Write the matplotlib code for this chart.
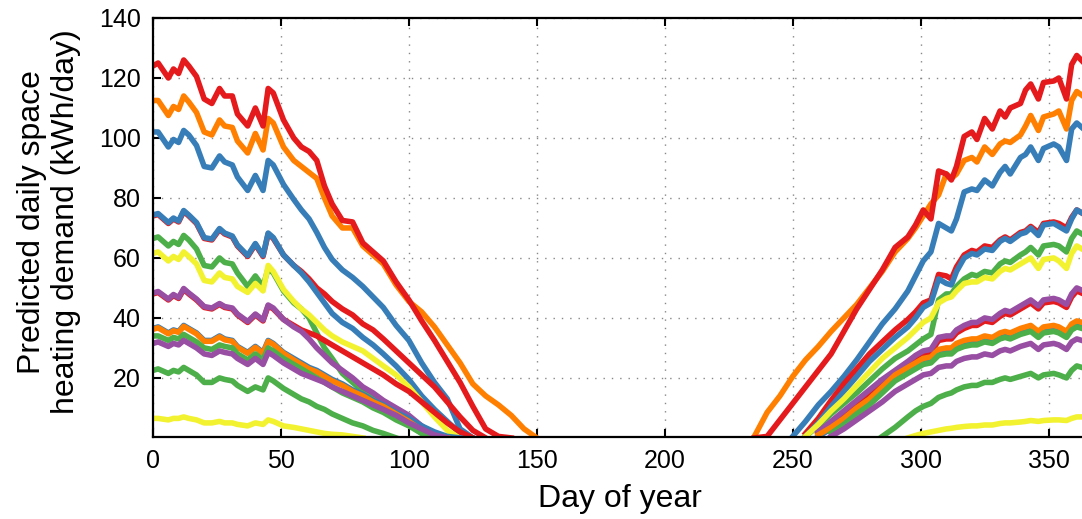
import matplotlib
matplotlib.use("Agg")
import matplotlib.pyplot as plt
import numpy as np

plt.rcParams['font.family'] = ['Liberation Sans', 'DejaVu Sans']

# day grids (spring part starts at day 0, autumn part ends at day 365)
spring_days = [0, 2, 6, 8, 10, 12, 14, 17, 20, 23, 26, 28, 31, 33, 37, 40, 43, 45, 47, 51,
               55, 58, 61, 64, 67, 70, 74, 78, 82, 86, 90, 95, 100, 105, 110, 115, 120, 125,
               130, 135, 140, 145, 150]
autumn_days = [235, 240, 245, 250, 255, 260, 265, 270, 275, 280, 285, 290, 295, 298, 301,
               304, 307, 310, 312, 314, 317, 320, 322, 325, 328, 331, 333, 335, 339, 341,
               343, 346, 348, 352, 354, 357, 359, 361, 365]

# spring values (kWh/day), until each curve hits zero
orange1_a = [112.5, 112.5, 107.5, 110.5, 109.5, 114, 112, 108.5, 102, 101, 106, 104, 103.5, 99, 95,
             101.5, 96, 106.5, 105, 97, 92.5, 90.5, 88.5, 86.5, 80, 74, 70, 70, 64, 61, 58, 51,
             45.5, 42, 37, 31, 25, 18, 14, 11, 7.5, 3, 0]
red1_a = [124, 125, 120, 123, 121.5, 126, 124, 120.5, 113, 111.5, 116.5, 114, 114, 108, 104,
          110, 104, 116.5, 115, 106, 100, 97, 95.5, 92.5, 84, 78, 72.5, 72, 65, 62, 59, 52,
          46, 39, 32.5, 25.5, 18.5, 10.5, 3, 0.5, 0]
blue1_a = [102, 102, 97, 99.5, 98.5, 102.5, 101, 97.5, 90.5, 90, 94, 92, 91, 87, 82.5, 87.5,
           82.5, 92.5, 91, 84.5, 79.5, 76, 73, 68.5, 63.5, 59.5, 56, 53.5, 50.5, 47, 43.5, 37.5,
           32.5, 25, 18.5, 13, 3, 0]
red2_a = [74, 74.5, 71.5, 73, 72, 75.5, 74, 71.5, 66.5, 66, 69.5, 68, 67, 64, 60.5, 64.5, 60.5,
          68, 66.5, 61, 57.5, 55.5, 53, 50, 48, 45.5, 43, 41, 38, 36, 33, 29, 25, 21, 17, 12, 7,
          2.5, 0]
blue2_a = [74.3, 74.8, 71.8, 73.3, 72.3, 75.8, 74.3, 71.8, 66.8, 66.3, 69.8, 68.3, 67.3, 64.3,
           60.8, 64.8, 60.8, 68.3, 66.8, 61, 57.5, 55, 52, 48.5, 45, 41.5, 38.5, 36.5, 33.5, 31,
           28, 24, 19.5, 14, 9.5, 5.5, 1.5, 0]
green1_a = [66.5, 67, 64, 65.5, 64.5, 67.5, 66, 63, 57.5, 57, 60, 58.5, 58, 55, 50.5, 54, 50.5,
            56.5, 55, 49, 45, 43, 40, 35, 30, 26.5, 21.5, 18.5, 15.5, 13.5, 11, 7.5, 4.5, 1.5, 0]
yellow1_a = [61.5, 62, 59, 60.5, 59.5, 62, 60.5, 58, 52.5, 52, 55, 53.5, 53, 50.5, 48.5, 51.5,
             49, 57.5, 55.5, 49.5, 45.5, 43, 41, 38.5, 36, 34, 32, 30.5, 29, 26.5, 24, 21, 17,
             12, 7, 2.5, 0]
red3_a = [48, 48.5, 46, 47.5, 46.5, 49.5, 48, 46, 43.5, 43, 44.5, 43.5, 43, 41, 38.5, 41, 39,
          44, 43, 39.5, 37.5, 36, 35, 34, 32.5, 31, 29, 27, 25, 23, 21, 18, 15.5, 12, 8.5, 5,
          2, 0]
purple1_a = [48.3, 48.8, 46.3, 47.8, 46.8, 49.8, 48.3, 46.3, 43.8, 43.3, 44.8, 43.8, 43.3, 41.3,
             38.8, 41.3, 39.3, 44.3, 43.3, 39.5, 37, 35.5, 33, 30, 27.5, 25, 22.5, 20, 17, 15,
             12.5, 10, 7.5, 4, 1, 0]
blue3_a = [36.5, 37, 35, 36, 35.5, 37.5, 36.5, 35, 32.5, 32.5, 34, 33, 32.5, 30.5, 28.5, 30.5,
           28.5, 32.5, 31.5, 28.5, 26.5, 25, 23.5, 22.5, 21, 19.5, 18, 16, 14.5, 12.5, 11, 8.5,
           6.5, 4, 2, 0.5, 0]
orange2_a = [36.2, 36.7, 34.7, 35.7, 35.2, 37.2, 36.2, 34.7, 32.2, 32.2, 33.7, 32.7, 32.2, 30.2,
             28.2, 30.2, 28.2, 32.2, 31.2, 28.2, 26, 24.5, 23, 22, 20.5, 19, 17.5, 15.5, 14, 12,
             10.5, 8, 5.5, 2.5, 0.5, 0]
green2_a = [34, 34, 32.5, 33.5, 33, 34.5, 33.5, 32, 30, 29.5, 31, 30.5, 30, 28, 26, 28, 26, 30,
            29, 26.5, 24.5, 23, 21.5, 20, 18.5, 17, 15, 13.5, 12, 10, 8.5, 6, 4, 1.5, 0]
purple2_a = [31.5, 32, 30.5, 31.5, 31, 32.5, 31.5, 30, 28, 27.5, 29, 28.5, 28, 26.5, 24.5, 26.5,
             24.5, 28.5, 27.5, 25, 23, 21.5, 20.5, 19.5, 18.5, 17, 15.5, 14, 12.5, 11, 9.5, 7.5,
             5, 3, 1, 0]
green3_a = [22.5, 23, 21.5, 22.5, 22, 23.5, 22.5, 21, 18.5, 18.5, 20, 19.5, 19, 17.5, 15.5, 17,
            16, 20, 19, 16.5, 14.5, 13, 12, 10.5, 9.5, 8, 6.5, 5, 4, 2.5, 1.5, 0]
yellow2_a = [6.5, 6.5, 6, 6.5, 6.5, 7, 6.5, 6, 5, 5, 5.5, 5, 5, 4.5, 4, 5, 4.5, 6, 5.5, 4, 3.5,
             3, 2.5, 2, 1.5, 1.2, 1, 0.5, 0]

# autumn values, from the day each curve leaves zero until day 365
orange1_b = [0.5, 8.5, 14, 20.5, 26, 30.5, 35.5, 40, 44.5, 50, 55.5, 62, 66.5, 70, 74, 78, 81,
             88, 86.5, 88, 92.5, 93.5, 92, 97, 94.5, 98, 99, 98.5, 101, 104, 107.5, 102.5, 107,
             108, 109, 103, 112.5, 115.5, 113]
red1_b = [0, 0.5, 6, 11.5, 17, 22.5, 28, 35.5, 43, 49.5, 56, 63.5, 67, 71, 76, 73, 89, 88, 86,
          90.5, 100.5, 102, 99.5, 106.5, 103, 109, 107, 110, 111.5, 116, 118, 113, 118.5, 119,
          120, 113, 124.5, 127.5, 124]
blue1_b = [0.5, 5.5, 11, 15.5, 20.5, 26, 32, 38, 43, 49, 54, 59, 62, 71.5, 70, 69, 73, 82, 83,
           82.5, 86, 84, 88.5, 90.5, 88, 93.5, 94.5, 97, 92.5, 96.5, 98, 97, 92.5, 103, 105, 102]
red2_b = [1.5, 6.5, 12.5, 18, 23, 28, 32, 36, 39.5, 42, 45, 46, 54.5, 54, 53, 57, 61, 62.5, 62,
          64, 63.5, 66, 67, 66, 68.5, 69, 70.5, 68.5, 71.5, 72, 71.5, 70, 73.5, 76, 74]
blue2_b = [0.5, 5, 10.5, 15.5, 20.5, 25.5, 29.5, 33.5, 37, 40, 43.5, 45, 53, 51.5, 51, 55.5, 60,
           61.5, 61, 63, 62.5, 65.5, 66.5, 65.5, 68, 68.5, 70, 67.5, 71, 71.5, 70.5, 69, 73, 76,
           74]
green1_b = [0.5, 4, 8, 11.5, 15, 19, 23, 26.5, 29, 31, 33, 34.5, 46, 48, 48, 50.5, 53, 54.5, 54,
            55.5, 55, 58, 59, 58.5, 61, 62, 63.5, 61, 64, 64.5, 64, 62, 66.5, 69, 67]
yellow1_b = [0.5, 4.5, 9, 13, 17.5, 22, 26.5, 30, 33.5, 36, 38.5, 40, 45, 46.5, 47, 49, 51.5, 52,
             52, 53.5, 53, 55.5, 56.5, 56, 58, 59, 60, 56.5, 59.5, 60, 59, 56.5, 61.5, 64, 62]
red3_b = [1.5, 5, 8, 11.5, 15, 18.5, 21.5, 24.5, 26.5, 28, 28.5, 32.5, 33, 33, 35, 36.5, 37.5,
          37.5, 39, 38.5, 40.5, 41.5, 41, 43, 44, 45, 43, 45, 45.5, 45, 43.5, 47, 49, 47.5]
purple1_b = [2, 5.5, 9, 12.5, 16, 19.5, 22.5, 25.5, 27.5, 29, 29.5, 33.5, 34, 34, 36, 37.5, 38.5,
             38.5, 40, 39.5, 41.5, 42.5, 42, 44, 45, 46, 44, 46, 46.5, 46, 44.5, 48, 50, 48.5]
blue3_b = [0.5, 3, 6, 9.5, 12.5, 16.5, 20.5, 23, 24.5, 26, 26.5, 29, 29.5, 29.5, 31, 32, 32.5,
           32.5, 33.5, 33, 34.5, 35, 34.5, 36, 36.5, 37, 35, 36.5, 37, 36.5, 35, 37.5, 38.5, 37.5]
orange2_b = [1, 3.5, 6.5, 10, 13, 17, 21, 23.5, 25, 26.5, 27, 29.5, 30, 30, 31.5, 32.5, 33, 33,
             34, 33.5, 35, 35.5, 35, 36.5, 37, 37.5, 35.5, 37, 37.5, 37, 35.5, 38, 39, 38]
green2_b = [1.5, 4.5, 8, 11, 15, 19, 21.5, 23, 24.5, 25, 27.5, 28, 28, 29.5, 30.5, 31, 31, 32,
            31.5, 33, 33.5, 33, 34.5, 35, 35.5, 33.5, 35, 35.5, 35, 33.5, 36, 37, 36]
purple2_b = [0.5, 3, 6, 9, 12, 15.5, 18, 19.5, 21, 21.5, 23.5, 24, 24, 25.5, 26.5, 27, 27, 28,
             27.5, 29, 29.5, 29, 30.5, 31, 31.5, 29.5, 31, 31.5, 31, 29.5, 32, 33, 32]
green3_b = [0.5, 3.5, 7, 9, 10.5, 11.5, 13.5, 14.5, 15, 16, 17, 17.5, 17.5, 18.5, 18.5, 19.5, 20,
            19.5, 20.5, 21, 21.5, 20, 21, 21.5, 21, 20, 22.5, 24, 23]
yellow2_b = [0, 0.8, 1.5, 2, 2.5, 3, 3.2, 3.5, 3.8, 4, 4, 4.3, 4.3, 4.8, 5, 5, 5.3, 5.5, 5.8,
             5.5, 5.8, 6, 6, 5.8, 6.5, 7, 7]

red = '#e41a1c'
orange = '#ff7f00'
blue = '#377eb8'
green = '#4daf4a'
yellow = '#f2f230'
purple = '#984ea3'

series = [
    (orange1_a, orange1_b, orange), (red1_a, red1_b, red), (blue1_a, blue1_b, blue),
    (red2_a, red2_b, red), (blue2_a, blue2_b, blue), (green1_a, green1_b, green),
    (yellow1_a, yellow1_b, yellow), (red3_a, red3_b, red), (purple1_a, purple1_b, purple),
    (blue3_a, blue3_b, blue), (orange2_a, orange2_b, orange), (green2_a, green2_b, green),
    (purple2_a, purple2_b, purple), (green3_a, green3_b, green), (yellow2_a, yellow2_b, yellow),
]

fig = plt.figure(figsize=(10.82, 5.19), dpi=100)
# axes runs a little past the right edge of the picture (cropped like the original)
ax = fig.add_axes([153 / 1082, 82 / 519, 934 / 1082, 419 / 519])

for spring, autumn, col in series:
    ax.plot(spring_days[:len(spring)], spring, color=col, lw=4, solid_joinstyle='round')
    ax.plot(autumn_days[-len(autumn):], autumn, color=col, lw=4, solid_joinstyle='round')

ax.set_xlim(0, 365)
ax.set_ylim(0.3, 140)
ax.set_xticks(np.arange(0, 351, 50))
ax.set_yticks(np.arange(20, 141, 20))
ax.grid(True, color='#888888', linestyle=(0, (1, 5)), linewidth=1.0)
ax.tick_params(direction='in', length=6, width=1.5, labelsize=18, pad=9,
               top=True, right=False)
for s in ax.spines.values():
    s.set_linewidth(1.6)
ax.spines['right'].set_visible(False)

fig.text(620 / 1082, 1 - 499 / 519, 'Day of year', fontsize=23, ha='center', va='center')
fig.text(49 / 1082, 1 - 222 / 519, 'Predicted daily space\nheating demand (kWh/day)',
         fontsize=23, ha='center', va='center', rotation=90, linespacing=1.15)

fig.savefig('out.png', dpi=100)
